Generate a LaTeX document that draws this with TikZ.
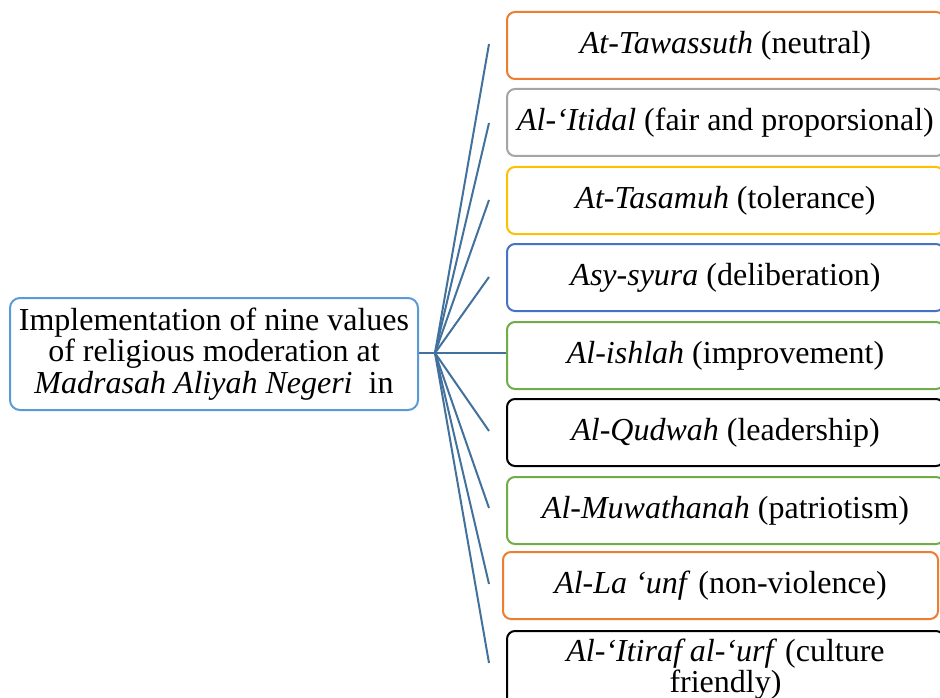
\documentclass[tikz,border=0pt]{standalone}
\usepackage{fontspec}
\setmainfont{Liberation Serif}
\definecolor{cOrange}{HTML}{ED7D31}
\definecolor{cGray}{HTML}{A5A5A5}
\definecolor{cYellow}{HTML}{FFC000}
\definecolor{cBlue}{HTML}{4472C4}
\definecolor{cGreen}{HTML}{70AD47}
\definecolor{cLeft}{HTML}{5B9BD5}
\definecolor{cLink}{HTML}{41719C}
\begin{document}
\begin{tikzpicture}[x=1pt,y=-1pt,
  vbox/.style={draw, rounded corners=8pt, line width=2pt, fill=white,
    minimum width=437pt, minimum height=67pt, inner sep=0pt,
    anchor=north west, align=center, font=\fontsize{32}{31.5}\selectfont},
  mainbox/.style={draw=cLeft, rounded corners=10pt, line width=2pt,
    minimum width=408pt, minimum height=112pt, inner sep=0pt,
    align=center, font=\fontsize{32}{31.5}\selectfont},
  link/.style={draw=cLink, line width=2pt}]
\useasboundingbox (0,0) rectangle (940,698);
\clip (0,0) rectangle (940,698);

\node[mainbox] (main) at (214,354) {Implementation of nine values\\of religious moderation at\\\textit{Madrasah Aliyah Negeri}\ \ in};

\node[vbox, draw=cOrange] (v1) at (506,11) {\textit{At-Tawassuth} (neutral)};
\node[vbox, draw=cGray] (v2) at (506,88) {\textit{Al-‘Itidal} (fair and proporsional)};
\node[vbox, draw=cYellow] (v3) at (506,166) {\textit{At-Tasamuh} (tolerance)};
\node[vbox, draw=cBlue] (v4) at (506,243) {\textit{Asy-syura} (deliberation)};
\node[vbox, draw=cGreen] (v5) at (506,321) {\textit{Al-ishlah} (improvement)};
\node[vbox, draw=black] (v6) at (506,398) {\textit{Al-Qudwah} (leadership)};
\node[vbox, draw=cGreen] (v7) at (506,476) {\textit{Al-Muwathanah} (patriotism)};
\node[vbox, draw=cOrange, minimum width=435pt] (v8) at (502,551) {\textit{Al-La ‘unf} (non-violence)};
\node[vbox, draw=black, minimum height=76pt] (v9) at (506,630) {\textit{Al-‘Itiraf al-‘urf} (culture\\friendly)};

\coordinate (hub) at (435,353);
\coordinate (e1) at (489,44);
\coordinate (e2) at (489,123);
\coordinate (e3) at (489,200);
\coordinate (e4) at (489,277);
\coordinate (e6) at (489,431);
\coordinate (e7) at (489,508);
\coordinate (e8) at (489,584);
\coordinate (e9) at (489,663);

\draw[link] (main.east |- hub) -- (hub);
\draw[link] (hub) -- (v5.west |- hub);
\foreach \e in {e1,e2,e3,e4,e6,e7,e8,e9}
  \draw[link] (hub) -- (\e);
\end{tikzpicture}
\end{document}
